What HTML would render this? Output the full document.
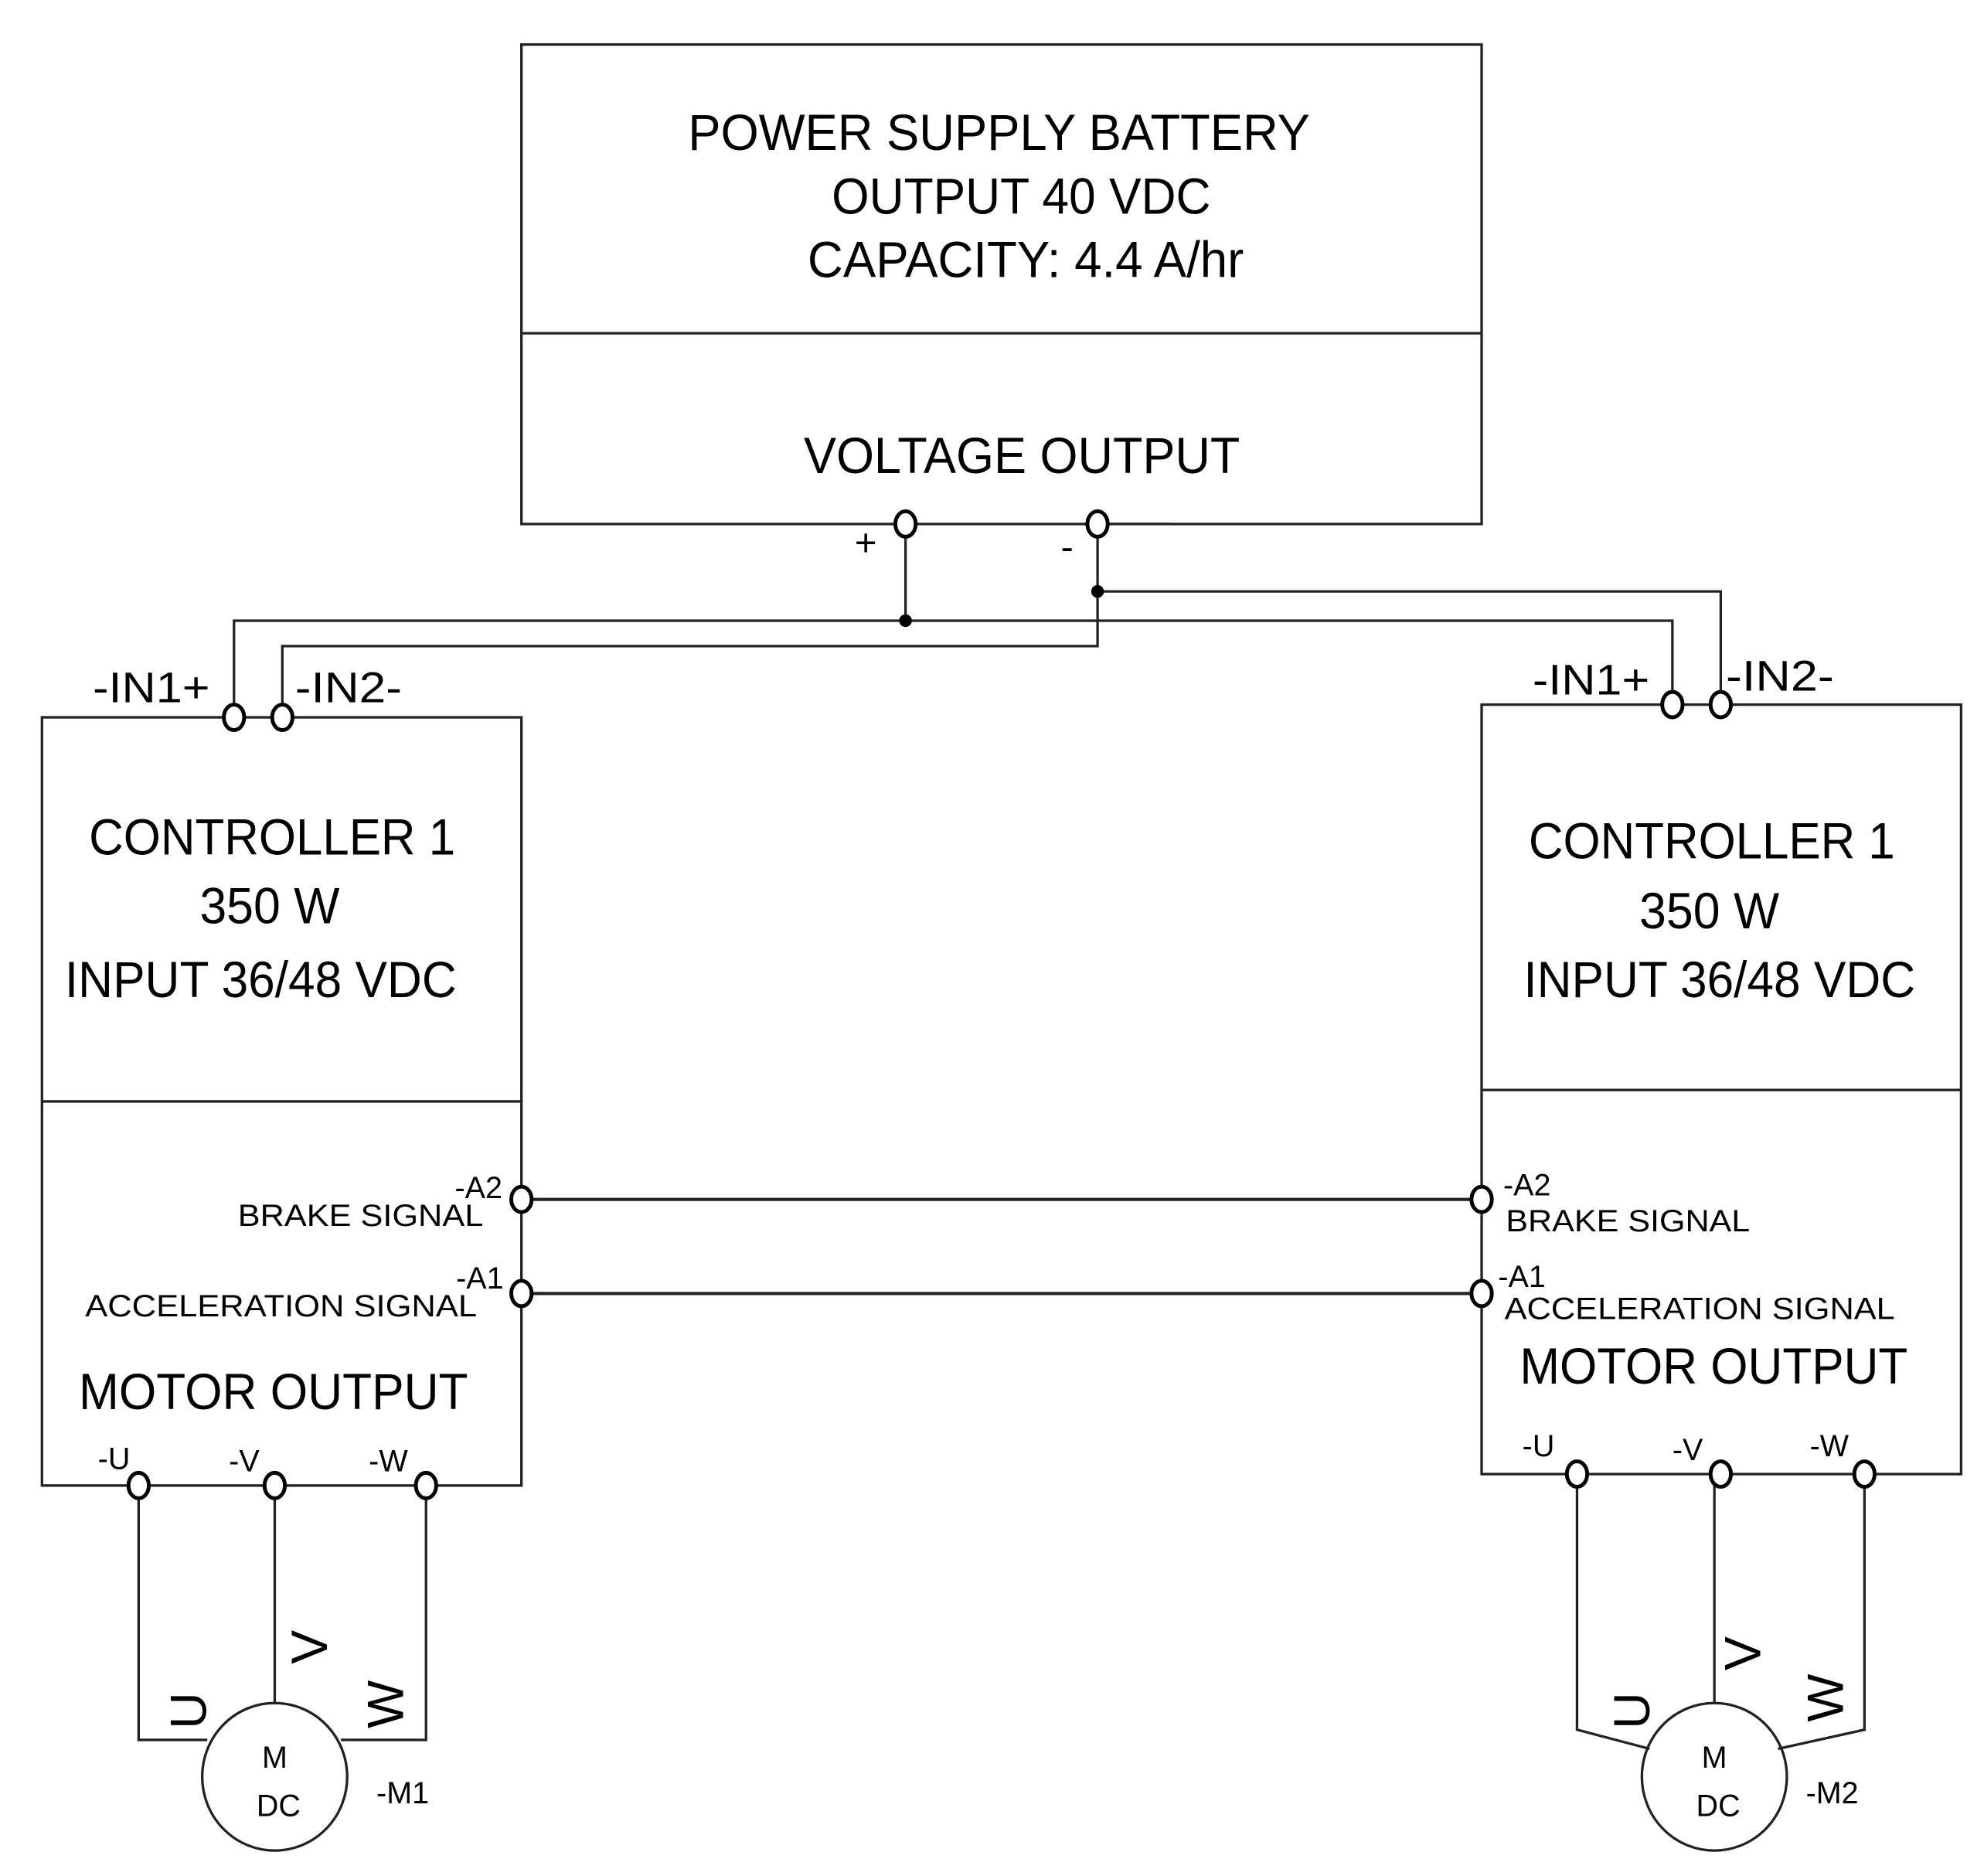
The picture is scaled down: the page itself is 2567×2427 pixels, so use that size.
<!DOCTYPE html>
<html><head><meta charset="utf-8"><style>html,body{margin:0;padding:0;background:#fff}svg{display:block}</style></head>
<body>
<svg width="2567" height="2427" viewBox="0 0 1560 1475" preserveAspectRatio="none" xmlns="http://www.w3.org/2000/svg" font-family="Liberation Sans, Arial, sans-serif" fill="#000">
<g fill="none" stroke="#222" stroke-width="2">
<rect x="410" y="35" width="755" height="377"/><line x1="410" y1="262" x2="1165" y2="262"/>
<rect x="33" y="564" width="377" height="604"/><line x1="33" y1="866" x2="410" y2="866"/>
<rect x="1165" y="554" width="377" height="605"/><line x1="1165" y1="857" x2="1542" y2="857"/>
<line x1="863" y1="412" x2="920" y2="412"/>
<polyline points="712,412 712,488"/>
<polyline points="184,564 184,488 1315,488 1315,554"/>
<polyline points="863,412 863,508 222,508 222,564"/>
<polyline points="863,465 1353,465 1353,554"/>
<line x1="410" y1="943" x2="1165" y2="943" stroke-width="2.5"/>
<line x1="410" y1="1017" x2="1165" y2="1017" stroke-width="2.5"/>
<polyline points="109,1168 109,1368 163,1368"/>
<line x1="216" y1="1168" x2="216" y2="1340"/>
<polyline points="335,1168 335,1368 268,1368"/>
<polyline points="1240,1159 1240,1360 1297,1375"/>
<line x1="1348" y1="1159" x2="1348" y2="1340"/>
<polyline points="1466,1159 1466,1360 1398,1375"/>
<ellipse cx="216" cy="1397" rx="57" ry="58"/>
<ellipse cx="1348" cy="1397" rx="57" ry="58"/>
</g>
<g fill="#fff" stroke="#000" stroke-width="3">
<ellipse cx="712" cy="412" rx="8" ry="10"/><ellipse cx="863" cy="412" rx="8" ry="10"/>
<ellipse cx="184" cy="564" rx="8" ry="10"/><ellipse cx="222" cy="564" rx="8" ry="10"/>
<ellipse cx="1315" cy="554" rx="8" ry="10"/><ellipse cx="1353" cy="554" rx="8" ry="10"/>
<ellipse cx="410" cy="943" rx="8" ry="10"/><ellipse cx="410" cy="1017" rx="8" ry="10"/>
<ellipse cx="1165" cy="943" rx="8" ry="10"/><ellipse cx="1165" cy="1017" rx="8" ry="10"/>
<ellipse cx="109" cy="1168" rx="8" ry="10"/><ellipse cx="216" cy="1168" rx="8" ry="10"/><ellipse cx="335" cy="1168" rx="8" ry="10"/>
<ellipse cx="1240" cy="1159" rx="8" ry="10"/><ellipse cx="1353" cy="1159" rx="8" ry="10"/><ellipse cx="1466" cy="1159" rx="8" ry="10"/>
</g>
<circle cx="712" cy="488" r="5"/><circle cx="863" cy="465" r="5"/>
<g font-size="40">
<text x="541" y="118" textLength="489" lengthAdjust="spacingAndGlyphs">POWER SUPPLY BATTERY</text>
<text x="654" y="168" textLength="298" lengthAdjust="spacingAndGlyphs">OUTPUT 40 VDC</text>
<text x="635" y="218" textLength="343" lengthAdjust="spacingAndGlyphs">CAPACITY: 4.4 A/hr</text>
<text x="632" y="372" textLength="343" lengthAdjust="spacingAndGlyphs">VOLTAGE OUTPUT</text>
<text x="70" y="672" textLength="288" lengthAdjust="spacingAndGlyphs">CONTROLLER 1</text>
<text x="157" y="726" textLength="110" lengthAdjust="spacingAndGlyphs">350 W</text>
<text x="51" y="784" textLength="308" lengthAdjust="spacingAndGlyphs">INPUT 36/48 VDC</text>
<text x="1202" y="675" textLength="288" lengthAdjust="spacingAndGlyphs">CONTROLLER 1</text>
<text x="1289" y="730" textLength="110" lengthAdjust="spacingAndGlyphs">350 W</text>
<text x="1198" y="784" textLength="308" lengthAdjust="spacingAndGlyphs">INPUT 36/48 VDC</text>
<text x="62" y="1108" textLength="306" lengthAdjust="spacingAndGlyphs">MOTOR OUTPUT</text>
<text x="1195" y="1088" textLength="305" lengthAdjust="spacingAndGlyphs">MOTOR OUTPUT</text>
</g>
<g font-size="34">
<text x="73" y="552" textLength="92" lengthAdjust="spacingAndGlyphs">-IN1+</text>
<text x="232" y="552" textLength="84" lengthAdjust="spacingAndGlyphs">-IN2-</text>
<text x="1205" y="546" textLength="92" lengthAdjust="spacingAndGlyphs">-IN1+</text>
<text x="1357" y="543" textLength="85" lengthAdjust="spacingAndGlyphs">-IN2-</text>
<text x="672" y="437" font-size="30">+</text>
<text x="834" y="440" font-size="30">-</text>
</g>
<g font-size="24">
<text x="395" y="942" text-anchor="end">-A2</text>
<text x="187" y="964" textLength="193" lengthAdjust="spacingAndGlyphs">BRAKE SIGNAL</text>
<text x="396" y="1013" text-anchor="end">-A1</text>
<text x="67" y="1035" textLength="308" lengthAdjust="spacingAndGlyphs">ACCELERATION SIGNAL</text>
<text x="1182" y="940">-A2</text>
<text x="1184" y="968" textLength="192" lengthAdjust="spacingAndGlyphs">BRAKE SIGNAL</text>
<text x="1178" y="1012">-A1</text>
<text x="1183" y="1037" textLength="307" lengthAdjust="spacingAndGlyphs">ACCELERATION SIGNAL</text>
<text x="77" y="1155">-U</text><text x="180" y="1157">-V</text><text x="290" y="1157">-W</text>
<text x="1197" y="1145">-U</text><text x="1315" y="1148">-V</text><text x="1423" y="1145">-W</text>
<text x="216" y="1390" text-anchor="middle">M</text><text x="219" y="1428" text-anchor="middle">DC</text>
<text x="1348" y="1390" text-anchor="middle">M</text><text x="1351" y="1428" text-anchor="middle">DC</text>
<text x="296" y="1418">-M1</text><text x="1420" y="1418">-M2</text>
</g>
<g font-size="40">
<text transform="translate(162,1345) rotate(-90)" text-anchor="middle">U</text>
<text transform="translate(257,1295) rotate(-90)" text-anchor="middle">V</text>
<text transform="translate(317,1340) rotate(-90)" text-anchor="middle">W</text>
<text transform="translate(1297,1345) rotate(-90)" text-anchor="middle">U</text>
<text transform="translate(1384,1300) rotate(-90)" text-anchor="middle">V</text>
<text transform="translate(1449,1335) rotate(-90)" text-anchor="middle">W</text>
</g>
</svg>
</body></html>
